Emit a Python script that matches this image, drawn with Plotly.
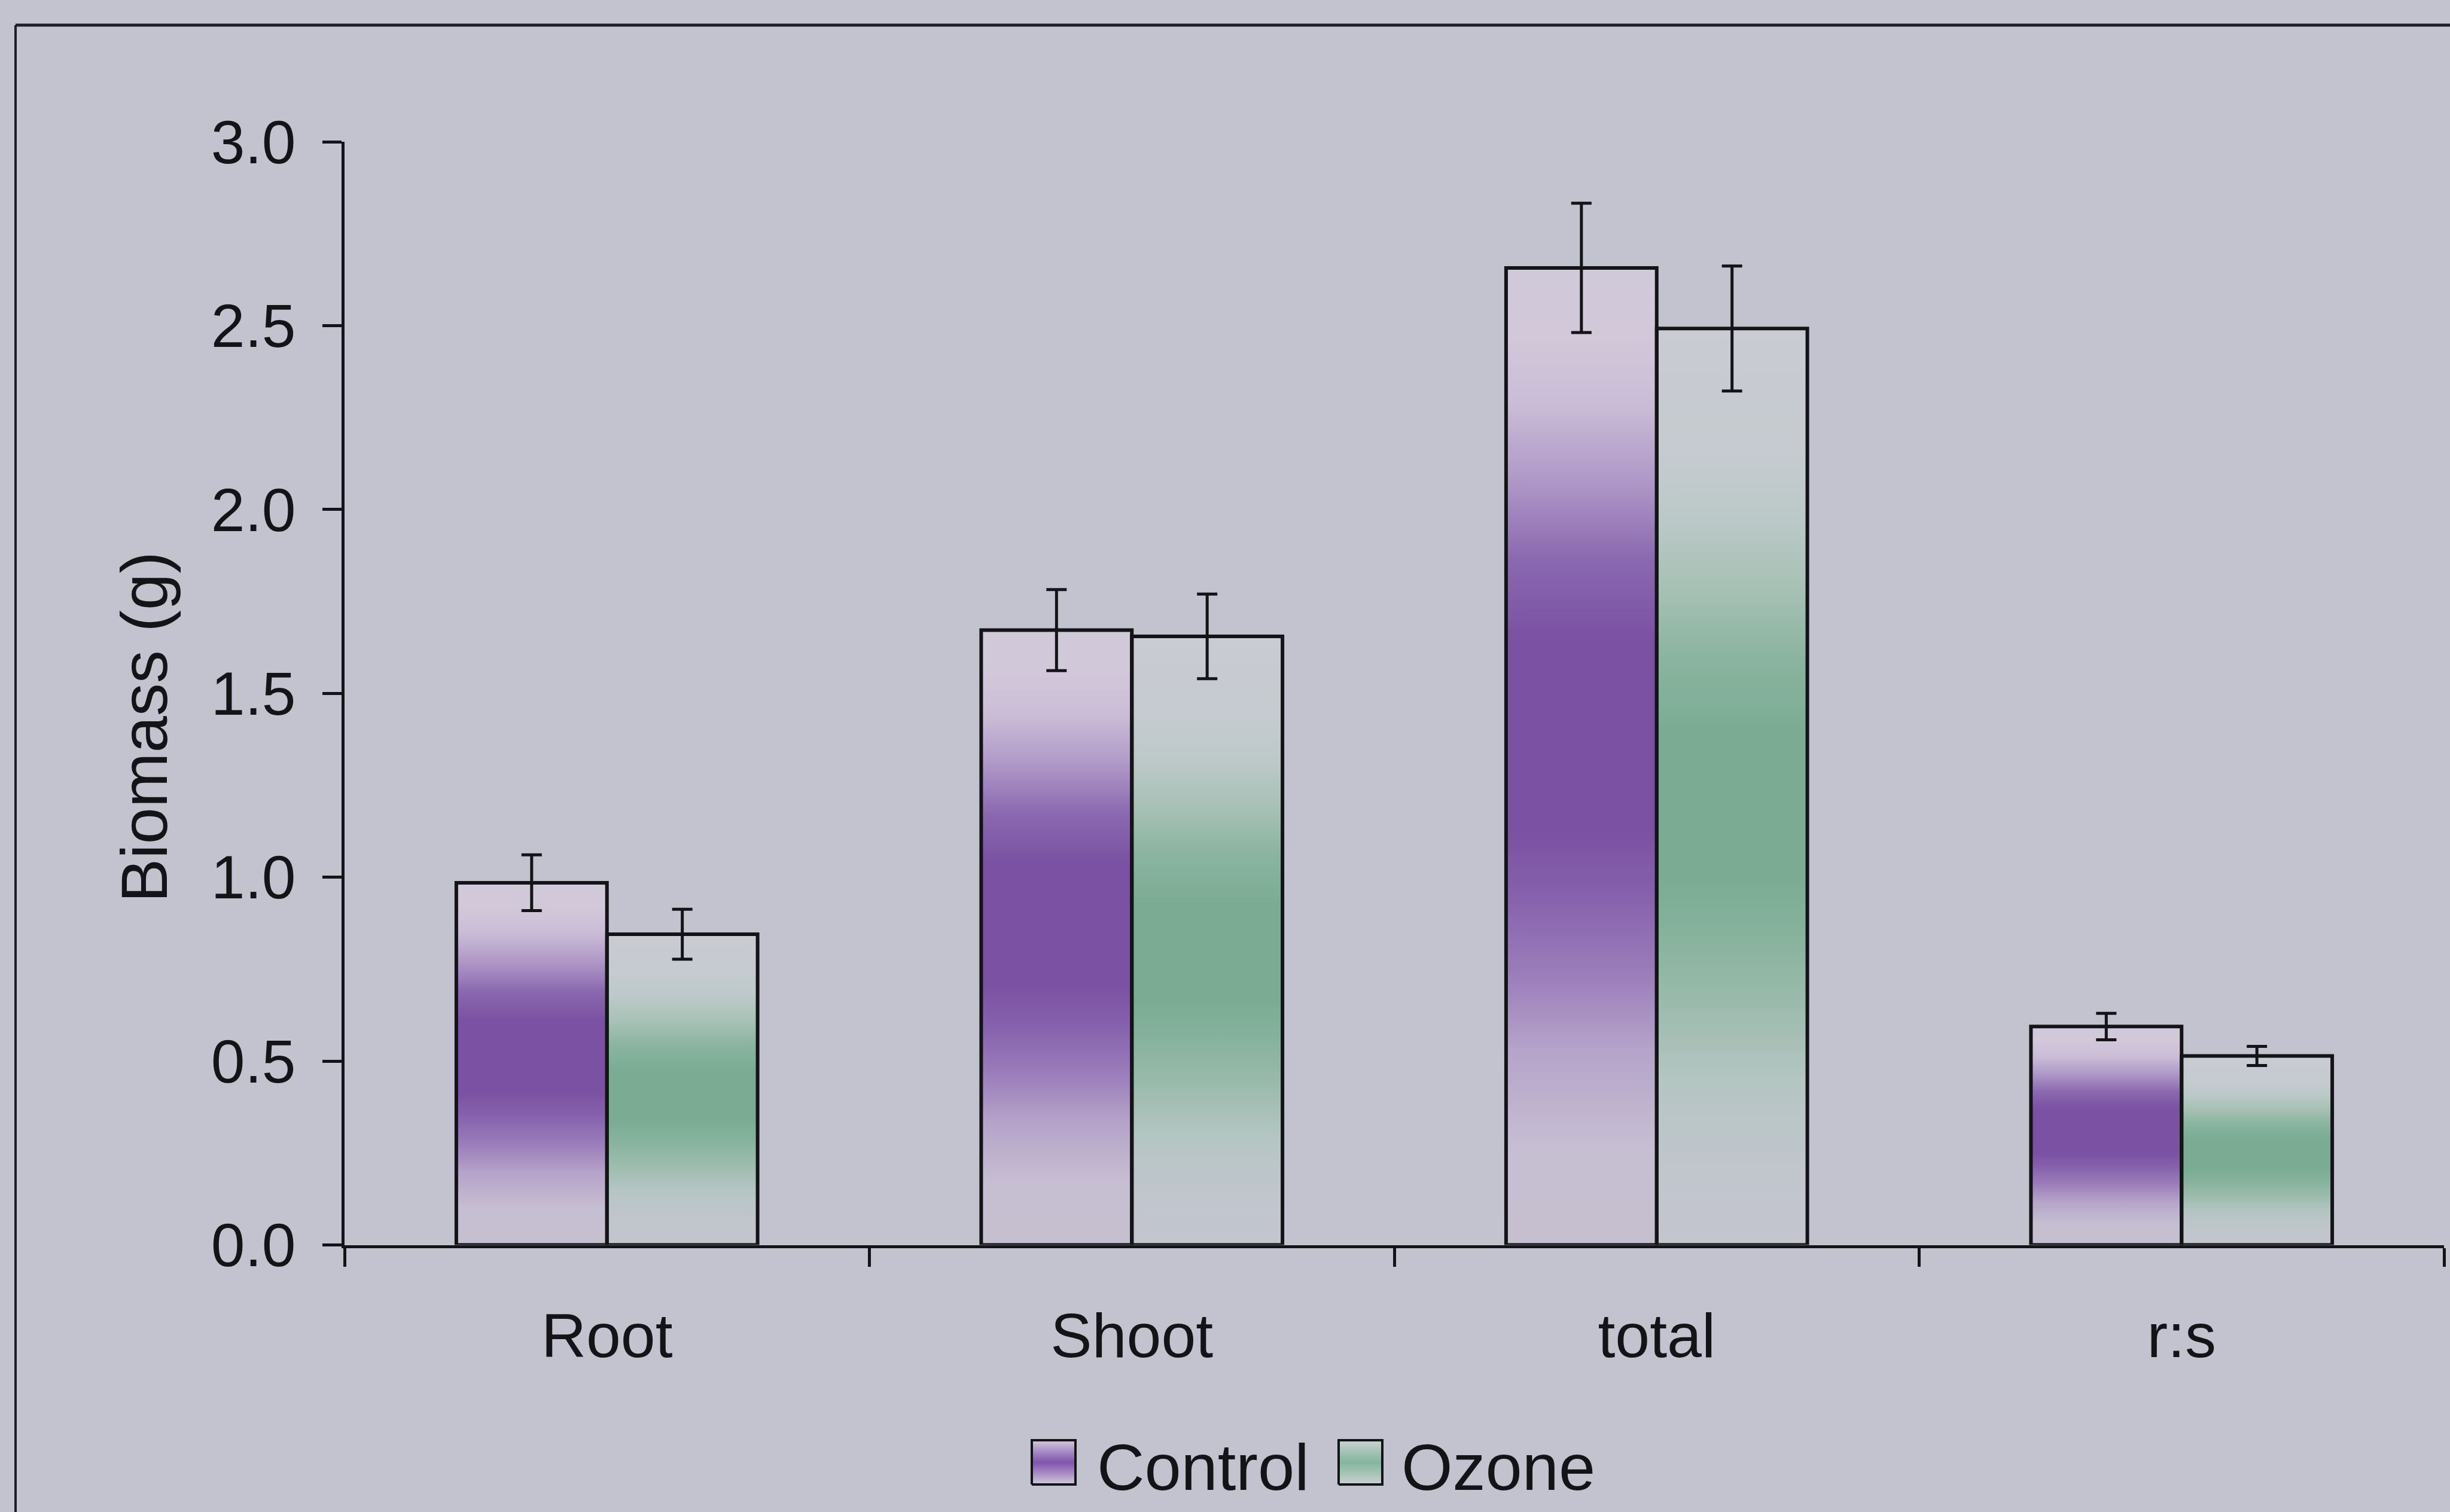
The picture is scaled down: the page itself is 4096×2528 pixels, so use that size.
import plotly.graph_objects as go

# ---- data -------------------------------------------------------------
categories = ["Root", "Shoot", "total", "r:s"]
series_names = ["Control", "Ozone"]
control_mean = [0.985, 1.672, 2.657, 0.594]
ozone_mean = [0.845, 1.655, 2.492, 0.514]
control_se = [0.076, 0.110, 0.176, 0.036]
ozone_se = [0.068, 0.115, 0.170, 0.026]
y_ticks = [0.0, 0.5, 1.0, 1.5, 2.0, 2.5, 3.0]

# ---- styling ----------------------------------------------------------
W, H = 4096, 2528
BG = "#C2C3CE"
INK = "#141418"
FONT = "Liberation Sans, Arial, Helvetica, sans-serif"
BAR_W = 0.287  # width of one bar, in category units

# plot area (pixels)
PX_L, PX_R = 576, 4086
PX_T, PX_B = 237, 2081.5

# vertical gradients: fraction 0 = bar base, 1 = bar top
purple_scale = [
    [0.00, "#C5C0D0"], [0.10, "#C6BED2"], [0.20, "#B5A3C9"], [0.28, "#9A7CBA"],
    [0.36, "#8660AC"], [0.42, "#7B52A3"], [0.62, "#7A51A3"], [0.70, "#8A68AF"],
    [0.78, "#AE97C7"], [0.86, "#CABCD6"], [0.93, "#D2C8DA"], [1.00, "#CFC9D8"],
]
green_scale = [
    [0.00, "#C3C5CF"], [0.08, "#C1C6CD"], [0.18, "#B4C5C2"], [0.26, "#9CBBAD"],
    [0.34, "#86B29C"], [0.40, "#7BAC93"], [0.56, "#7BAC93"], [0.64, "#8AB49F"],
    [0.72, "#A8C1B6"], [0.80, "#BDC9C9"], [0.88, "#C6CBD0"], [1.00, "#C9CCD3"],
]
swatch_scales = [
    [[0.0, "#D2CADA"], [0.25, "#A88CC6"], [0.5, "#8054AC"], [0.75, "#A88CC6"], [1.0, "#D4CCDA"]],
    [[0.0, "#CCD0D4"], [0.25, "#A6C4B6"], [0.5, "#84B69E"], [0.75, "#A6C4B6"], [1.0, "#CED2D6"]],
]

series = [
    (series_names[0], control_mean, control_se, purple_scale, -1),
    (series_names[1], ozone_mean, ozone_se, green_scale, 0),
]

fig = go.Figure()

# gradient bodies of the bars (hidden numeric axis under the category axis)
for name, means, errs, scale, shift in series:
    for i, v in enumerate(means):
        x0 = i + shift * BAR_W
        x1 = x0 + BAR_W
        fig.add_trace(go.Scatter(
            x=[x0, x1, x1, x0, x0], y=[0, 0, v, v, 0],
            xaxis="x", yaxis="y", mode="lines", line=dict(width=0),
            fill="toself",
            fillgradient=dict(type="vertical", colorscale=scale, start=0, stop=v),
            hoverinfo="skip", showlegend=False,
        ))

# bar outlines and standard-error bars
for name, means, errs, scale, shift in series:
    fig.add_trace(go.Bar(
        x=categories, y=means, name=name, xaxis="x2", yaxis="y",
        width=BAR_W, offset=shift * BAR_W,
        marker=dict(color="rgba(0,0,0,0)", line=dict(color=INK, width=6)),
        error_y=dict(type="data", array=errs, color=INK, thickness=5, width=17),
        showlegend=False,
    ))

# legend keys drawn in a small pixel-space axis below the plot
LEG_FRAC = 0.07
SWATCH_TOP, SWATCH_BOTTOM = 2408, 2482
swatch_left = [1725, 2238]
legend_text_left = [1832, 2341]
for k, name in enumerate(series_names):
    a, b = swatch_left[k], swatch_left[k] + 73
    fig.add_trace(go.Scatter(
        x=[a, b, b, a, a],
        y=[SWATCH_BOTTOM, SWATCH_BOTTOM, SWATCH_TOP, SWATCH_TOP, SWATCH_BOTTOM],
        xaxis="x3", yaxis="y3", mode="lines",
        line=dict(color=INK, width=4),
        fill="toself",
        fillgradient=dict(type="vertical", colorscale=swatch_scales[k],
                          start=SWATCH_BOTTOM, stop=SWATCH_TOP),
        hoverinfo="skip", showlegend=False,
    ))

annotations = [
    dict(text="Biomass (g)", textangle=-90, xref="paper", yref="paper",
         x=240 / W, y=1 - 1216 / H, xanchor="center", yanchor="middle",
         showarrow=False, font=dict(family=FONT, size=110, color=INK)),
]
for k, name in enumerate(series_names):
    annotations.append(dict(
        text=name, xref="paper", yref="paper",
        x=legend_text_left[k] / W, y=1 - 2452 / H,
        xanchor="left", yanchor="middle", showarrow=False,
        font=dict(family=FONT, size=110, color=INK),
    ))

# outer frame (top and left edges)
FX, FY = 26 / W, 1 - 42 / H
shapes = [
    dict(type="line", xref="paper", yref="paper", x0=FX, y0=FY, x1=1.02, y1=FY,
         line=dict(color="#1E1E2A", width=5)),
    dict(type="line", xref="paper", yref="paper", x0=FX, y0=FY, x1=FX, y1=-0.02,
         line=dict(color="#1E1E2A", width=4)),
]

fig.update_layout(
    width=W, height=H,
    margin=dict(l=0, r=0, t=0, b=0, autoexpand=False),
    paper_bgcolor=BG, plot_bgcolor="rgba(0,0,0,0)",
    showlegend=False,
    font=dict(family=FONT, color=INK),
    xaxis=dict(domain=[PX_L / W, PX_R / W], range=[-0.5, 3.5], visible=False,
               automargin=False, fixedrange=True),
    xaxis2=dict(
        overlaying="x", anchor="y", side="bottom", type="category",
        categoryorder="array", categoryarray=categories, range=[-0.5, 3.5],
        tickson="boundaries", ticks="outside", ticklen=31, tickwidth=4.5,
        tickcolor=INK, showline=True, linewidth=5, linecolor=INK,
        showgrid=False, zeroline=False, ticklabelstandoff=58, automargin=False,
        tickfont=dict(family=FONT, size=104, color=INK), fixedrange=True,
    ),
    yaxis=dict(
        domain=[1 - PX_B / H, 1 - PX_T / H], anchor="x", range=[0, 3],
        tickvals=y_ticks, ticktext=[f"{t:.1f}" for t in y_ticks],
        ticks="outside", ticklen=32, tickwidth=4.5, tickcolor=INK,
        showline=True, linewidth=5, linecolor=INK,
        showgrid=False, zeroline=False, ticklabelstandoff=24, automargin=False,
        tickfont=dict(family=FONT, size=102, color=INK), fixedrange=True,
    ),
    xaxis3=dict(domain=[0, 1], range=[0, W], anchor="y3", visible=False,
                automargin=False, fixedrange=True),
    yaxis3=dict(domain=[0, LEG_FRAC], range=[H, H * (1 - LEG_FRAC)], anchor="x3",
                visible=False, automargin=False, fixedrange=True),
    annotations=annotations,
    shapes=shapes,
)

fig.write_html("out.html")
